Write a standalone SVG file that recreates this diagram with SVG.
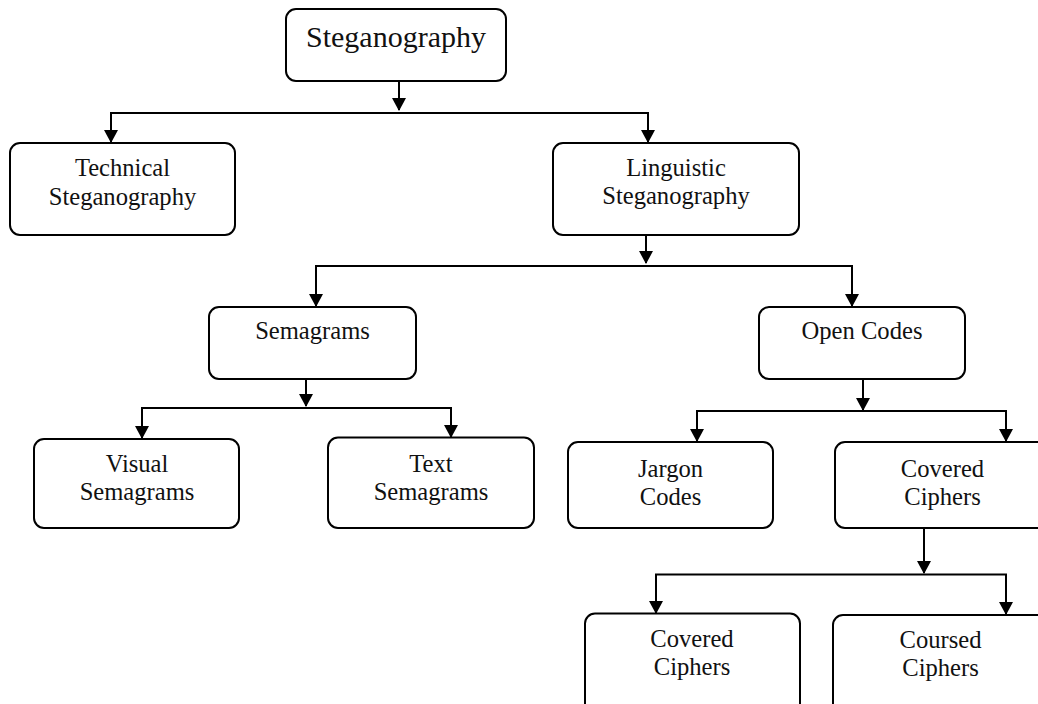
<svg xmlns="http://www.w3.org/2000/svg" width="1038" height="704" viewBox="0 0 1038 704">
<defs>
<style>
.box{fill:#fff;stroke:#000;stroke-width:2}
.lbl{font-family:"Liberation Serif","Times New Roman",serif;font-size:24.6px;fill:#111;text-anchor:middle}
.big{font-size:30px}
.con{fill:none;stroke:#000;stroke-width:2}
</style>
<marker id="ah" viewBox="0 0 13 14" refX="12" refY="7" markerWidth="13" markerHeight="14" markerUnits="userSpaceOnUse" orient="auto-start-reverse">
<path d="M0,0 L13,7 L0,14 z" fill="#000"/>
</marker>
</defs>
<rect width="1038" height="704" fill="#fff"/>

<g id="connectors">
<path class="con" d="M399,81 V110" marker-end="url(#ah)"/>
<path class="con" d="M111,142 V113 H648 V142" marker-start="url(#ah)" marker-end="url(#ah)"/>
<path class="con" d="M646,235 V263" marker-end="url(#ah)"/>
<path class="con" d="M316,306 V266 H852 V306" marker-start="url(#ah)" marker-end="url(#ah)"/>
<path class="con" d="M306,379 V406" marker-end="url(#ah)"/>
<path class="con" d="M142,438 V408 H451 V437" marker-start="url(#ah)" marker-end="url(#ah)"/>
<path class="con" d="M863,379 V410" marker-end="url(#ah)"/>
<path class="con" d="M697,441 V411 H1006 V441" marker-start="url(#ah)" marker-end="url(#ah)"/>
<path class="con" d="M924,528 V573" marker-end="url(#ah)"/>
<path class="con" d="M656,613 V574.5 H1006 V614" marker-start="url(#ah)" marker-end="url(#ah)"/>
</g>

<g id="steganography">
<rect class="box" x="286" y="9" width="220" height="72" rx="10"/>
<text class="lbl big" x="396" y="47">Steganography</text>
</g>

<g id="technical">
<rect class="box" x="10" y="143" width="225" height="92" rx="10"/>
<text class="lbl" x="122.5" y="176">Technical</text>
<text class="lbl" x="122.5" y="205">Steganography</text>
</g>

<g id="linguistic">
<rect class="box" x="553" y="143" width="246" height="92" rx="10"/>
<text class="lbl" x="676" y="176">Linguistic</text>
<text class="lbl" x="676" y="204">Steganography</text>
</g>

<g id="semagrams">
<rect class="box" x="209" y="307" width="207" height="72" rx="10"/>
<text class="lbl" x="312.5" y="339">Semagrams</text>
</g>

<g id="open-codes">
<rect class="box" x="759" y="307" width="206" height="72" rx="10"/>
<text class="lbl" x="862" y="339">Open Codes</text>
</g>

<g id="visual-semagrams">
<rect class="box" x="34" y="439" width="205" height="89" rx="10"/>
<text class="lbl" x="137" y="472">Visual</text>
<text class="lbl" x="137" y="500">Semagrams</text>
</g>

<g id="text-semagrams">
<rect class="box" x="328" y="437.5" width="206" height="90.5" rx="10"/>
<text class="lbl" x="431" y="472">Text</text>
<text class="lbl" x="431" y="500">Semagrams</text>
</g>

<g id="jargon-codes">
<rect class="box" x="568" y="442" width="205" height="86" rx="10"/>
<text class="lbl" x="670.5" y="477">Jargon</text>
<text class="lbl" x="670.5" y="505">Codes</text>
</g>

<g id="covered-ciphers-mid">
<rect class="box" x="835" y="442" width="215" height="86" rx="10"/>
<text class="lbl" x="942.5" y="477">Covered</text>
<text class="lbl" x="942.5" y="505">Ciphers</text>
</g>

<g id="covered-ciphers-bottom">
<rect class="box" x="585" y="613.5" width="215" height="110" rx="10"/>
<text class="lbl" x="692" y="647">Covered</text>
<text class="lbl" x="692" y="675">Ciphers</text>
</g>

<g id="coursed-ciphers">
<rect class="box" x="833" y="615" width="215" height="110" rx="10"/>
<text class="lbl" x="940.5" y="648">Coursed</text>
<text class="lbl" x="940.5" y="676">Ciphers</text>
</g>
</svg>
